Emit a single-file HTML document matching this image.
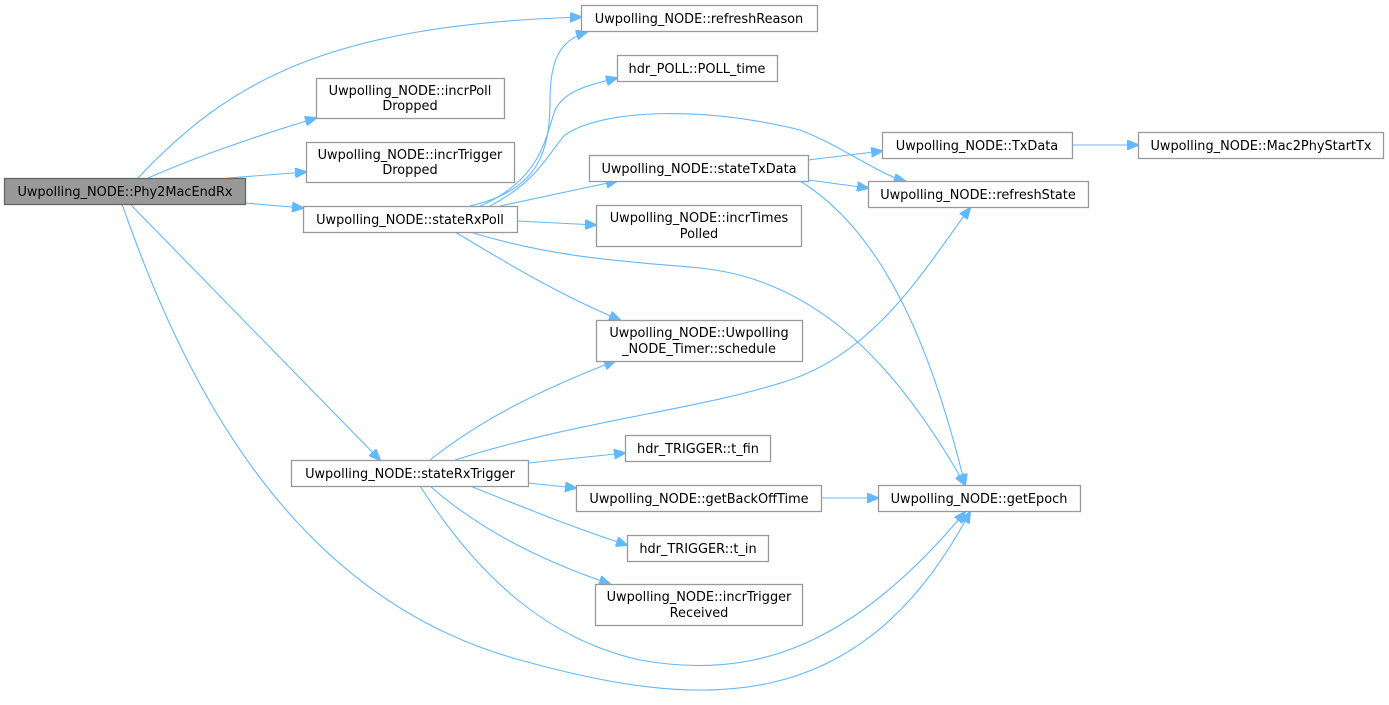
<!DOCTYPE html>
<html><head><meta charset="utf-8"><style>
body{margin:0;background:#fff;width:1389px;height:705px;overflow:hidden}
svg{display:block}
text{font-family:"DejaVu Sans","Liberation Sans",sans-serif;font-size:12.9px;fill:#000}
rect{fill:#fff;stroke:#999;stroke-width:1.3}
path{fill:none;stroke:#63b8ff;stroke-width:1.1}
</style></head><body>
<svg width="1389" height="705" viewBox="0 0 1389 705">
<defs><marker id="a" markerWidth="12" markerHeight="10" refX="11" refY="5" orient="auto" markerUnits="userSpaceOnUse"><path d="M0,0 L12,5 L0,10 Z" style="fill:#63b8ff;stroke:#63b8ff"/></marker></defs>
<g marker-end="url(#a)">
<path d="M138,178 C230,80 330,25 581,17"/>
<path d="M148,178 C200,155 260,135 316,118"/>
<path d="M228,178 L306,172"/>
<path d="M245,203 L303,208"/>
<path d="M130,204 L380,460"/>
<path d="M122,204 C190,400 300,600 520,660 C700,710 860,720 970,512"/>
<path d="M470,206 C540,190 550,150 550,100 C550,60 560,40 587,32"/>
<path d="M480,206 C540,180 545,140 555,110 C565,90 590,85 617,78"/>
<path d="M490,206 C540,180 550,150 565,135 C600,110 700,105 800,130 C840,145 880,175 905,181"/>
<path d="M500,206 L617,181"/>
<path d="M517,221 L596,225"/>
<path d="M455,232 C510,265 560,295 620,320"/>
<path d="M470,232 C560,260 640,262 700,268 C820,280 900,370 965,485"/>
<path d="M808,160 L882,151"/>
<path d="M808,180 L868,188"/>
<path d="M800,181 C880,230 930,340 965,485"/>
<path d="M1072,145 L1138,145"/>
<path d="M430,460 C480,420 540,390 615,361"/>
<path d="M455,460 C580,420 700,410 790,380 C880,350 930,260 970,208"/>
<path d="M528,463 L625,453"/>
<path d="M528,483 L576,488"/>
<path d="M470,486 C530,510 580,530 627,545"/>
<path d="M430,486 C480,530 540,560 610,584"/>
<path d="M420,486 C480,580 550,640 640,660 C750,680 850,650 965,512"/>
<path d="M821,498 L878,498"/>
</g>
<rect x="4.5" y="178.5" width="241" height="26" style="fill:#999;stroke:#666"/><text x="125" y="196" text-anchor="middle">Uwpolling_NODE::Phy2MacEndRx</text>
<rect x="581.5" y="5.5" width="236" height="26"/><text x="699" y="23" text-anchor="middle">Uwpolling_NODE::refreshReason</text>
<rect x="316.5" y="78.5" width="188" height="40"/><text x="410" y="95" text-anchor="middle">Uwpolling_NODE::incrPoll</text><text x="410" y="110" text-anchor="middle">Dropped</text>
<rect x="306.5" y="142.5" width="208" height="40"/><text x="410" y="159" text-anchor="middle">Uwpolling_NODE::incrTrigger</text><text x="410" y="174" text-anchor="middle">Dropped</text>
<rect x="303.5" y="206.5" width="214" height="26"/><text x="410" y="224" text-anchor="middle">Uwpolling_NODE::stateRxPoll</text>
<rect x="617.5" y="55.5" width="160" height="26"/><text x="697" y="73" text-anchor="middle">hdr_POLL::POLL_time</text>
<rect x="589.5" y="155.5" width="219" height="26"/><text x="699" y="173" text-anchor="middle">Uwpolling_NODE::stateTxData</text>
<rect x="882.5" y="132.5" width="190" height="26"/><text x="977" y="150" text-anchor="middle">Uwpolling_NODE::TxData</text>
<rect x="1138.5" y="132.5" width="245" height="26"/><text x="1261" y="150" text-anchor="middle">Uwpolling_NODE::Mac2PhyStartTx</text>
<rect x="868.5" y="181.5" width="220" height="26"/><text x="978" y="199" text-anchor="middle">Uwpolling_NODE::refreshState</text>
<rect x="596.5" y="205.5" width="205" height="41"/><text x="699" y="222" text-anchor="middle">Uwpolling_NODE::incrTimes</text><text x="699" y="238" text-anchor="middle">Polled</text>
<rect x="596.5" y="320.5" width="206" height="41"/><text x="699" y="337" text-anchor="middle">Uwpolling_NODE::Uwpolling</text><text x="699" y="353" text-anchor="middle">_NODE_Timer::schedule</text>
<rect x="291.5" y="460.5" width="237" height="26"/><text x="410" y="478" text-anchor="middle">Uwpolling_NODE::stateRxTrigger</text>
<rect x="625.5" y="435.5" width="145" height="26"/><text x="698" y="453" text-anchor="middle">hdr_TRIGGER::t_fin</text>
<rect x="576.5" y="485.5" width="245" height="26"/><text x="699" y="503" text-anchor="middle">Uwpolling_NODE::getBackOffTime</text>
<rect x="878.5" y="485.5" width="202" height="26"/><text x="979" y="503" text-anchor="middle">Uwpolling_NODE::getEpoch</text>
<rect x="627.5" y="535.5" width="141" height="26"/><text x="698" y="553" text-anchor="middle">hdr_TRIGGER::t_in</text>
<rect x="595.5" y="584.5" width="207" height="41"/><text x="699" y="601" text-anchor="middle">Uwpolling_NODE::incrTrigger</text><text x="699" y="617" text-anchor="middle">Received</text>
</svg>
</body></html>
